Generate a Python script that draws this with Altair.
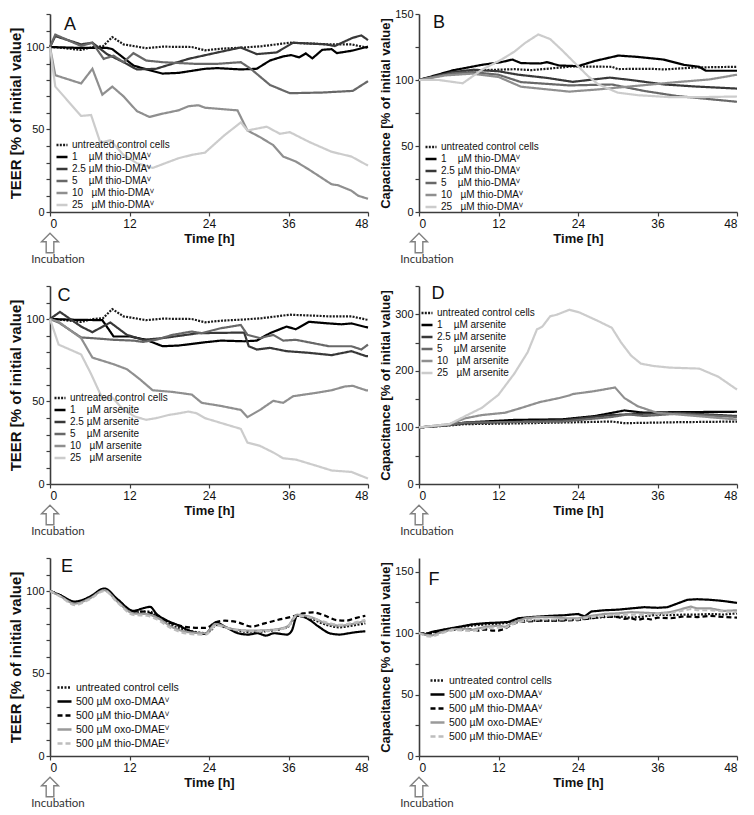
import altair as alt
import pandas as pd

# ---------------- data (time [h], % of initial value) ----------------
X_TICKS = [0, 6, 12, 18, 24, 30, 36, 42, 48]

NAMES_THIO = ["untreated control cells",
              "1\u00a0\u00a0\u00a0\u00a0\u00b5M thio-DMA\u2c7d",
              "2.5\u00a0\u00b5M thio-DMA\u2c7d",
              "5\u00a0\u00a0\u00a0\u00a0\u00b5M thio-DMA\u2c7d",
              "10\u00a0\u00a0\u00a0\u00b5M thio-DMA\u2c7d",
              "25\u00a0\u00a0\u00a0\u00b5M thio-DMA\u2c7d"]
NAMES_ARS = ["untreated control cells",
             "1\u00a0\u00a0\u00a0\u00a0\u00b5M arsenite",
             "2.5\u00a0\u00b5M arsenite",
             "5\u00a0\u00a0\u00a0\u00a0\u00b5M arsenite",
             "10\u00a0\u00a0\u00a0\u00b5M arsenite",
             "25\u00a0\u00a0\u00a0\u00b5M arsenite"]
NAMES_500 = ["untreated control cells",
             "500 \u00b5M oxo-DMAA\u2c7d",
             "500 \u00b5M thio-DMAA\u2c7d",
             "500 \u00b5M oxo-DMAE\u2c7d",
             "500 \u00b5M thio-DMAE\u2c7d"]

# Panel A (TEER, thio-DMAV)
A_CTRL = [(0,100),(2,99.4),(4.7,98.2),(6.5,100),(8,100.5),(9.4,106),(11.1,101.6),(14.5,99.3),(17,100.2),(21.4,100),(23.4,98),(26,99),(29.3,99.7),(32,100.5),(34.2,101.6),(36.2,102.6),(40,102),(42.1,101.6),(45.5,101.6),(47.7,99.7),(48,99.5)]
A_1 = [(0,100),(4,99.5),(8.6,99.5),(9.4,98.7),(12.6,88.8),(14.5,86.5),(17,83.9),(19.4,84.3),(23.4,86.8),(25.3,87.2),(28.8,86.4),(31.2,86.8),(33.2,91.8),(35.2,94.3),(36.4,95.1),(37.6,93.7),(38.6,96.1),(39.6,93.1),(41.1,98.3),(42.5,98.7),(43.3,96.3),(45.5,97.7),(48,100.2)]
A_2P5 = [(0,100),(0.8,106.6),(4.7,101.6),(6.4,102.6),(8.6,95.7),(11.1,90.8),(13.1,86.4),(16,86.8),(20.9,92.8),(25.3,96.7),(28.8,99.7),(31.2,95.7),(34.2,96.7),(36.7,102.6),(41.6,101.6),(43,100.6),(45.7,105.6),(47,107),(48,104.2)]
A_5 = [(0,100),(0.8,107.5),(4.7,100.6),(6.4,102.6),(8.1,92.8),(9.6,94.7),(11.1,90.8),(12.6,96.3),(14.5,91.8),(17,90.8),(21.9,89.8),(25.3,89.8),(28.8,90.8),(30.3,86.8),(33.2,77),(36.2,72),(41.1,72.4),(45.7,73.4),(48,79.3)]
A_10 = [(0,100),(0.8,82.9),(4.7,77.9),(6.4,86.8),(7.9,71.1),(9.4,76),(11.1,70.1),(13.1,61.2),(15,57.6),(17,59.6),(19.4,61.6),(20.9,64.1),(22.4,64.7),(23.4,63.2),(28.3,61.6),(29.8,49.4),(31.7,45.4),(33.7,40.5),(35.2,33.6),(37.1,30.6),(39.1,25.7),(42.5,16.8),(43.5,16.2),(45.5,12.9),(46.5,9.9),(48,8)]
A_25 = [(0,100),(0.8,76),(4.7,58.2),(6.2,58.8),(7.6,42),(9.1,43.5),(11.1,34.6),(13.1,29.6),(15.5,26.7),(19.4,32.6),(21.4,34.6),(23.4,36),(26.3,46.4),(28.8,54.3),(29.8,49.4),(32.7,51.7),(34.7,47.4),(36.2,48.4),(39.1,42.5),(42.5,36.5),(45.5,33.6),(48,28.1)]

# Panel B (capacitance, thio-DMAV)
B_CTRL = [(0,100),(4,104.5),(8.5,107.3),(14.4,108.2),(17,107.5),(19.3,108.5),(23.2,110.3),(29.1,110),(30,108.3),(35,108.5),(37,108),(41.8,109.5),(48,110)]
B_1 = [(0,100),(5.1,107.3),(9.5,111.5),(12.4,113.5),(14.1,115.5),(15.4,112.8),(18.3,112.5),(19.3,113.5),(21.2,111),(24,110.5),(26.6,114.5),(30.1,118.5),(33,117.5),(36.9,115.5),(40,111.5),(42.3,110),(43.3,107),(48,107)]
B_2P5 = [(0,100),(5,106),(8.3,107.8),(12,106.6),(15,104),(19.3,101.6),(23.2,98.6),(26.3,100.4),(28.8,101.8),(32,100),(37,96.6),(42,95),(48,93.5)]
B_5 = [(0,100),(5,105),(8,106),(12,104),(15.4,98.4),(22.7,95.9),(29.1,96.6),(34,91.7),(38.9,87.9),(48,83.5)]
B_10 = [(0,100),(4,103.5),(8,104.8),(12,102.3),(15.4,94.9),(22.7,91.2),(27.1,92.9),(34,96.1),(38.9,98.4),(43.8,100.4),(48,104)]
B_25 = [(0,100),(3,100),(6.6,97.5),(9.5,107.8),(12.4,115.3),(14.4,121.5),(16,128),(18,134.5),(19.8,131),(21.5,123),(23.5,113),(25.5,103),(27.1,96.6),(30,90.4),(33,88.5),(37.9,87),(42,87),(48,87.5)]

# Panel C (TEER, arsenite)
C_CTRL = A_CTRL
C_1 = [(0,100),(4,99.5),(7.9,99.3),(9.6,89.4),(12.1,89.4),(14.5,87.4),(17,83.5),(19.4,83.9),(23.4,85.9),(25.8,86.9),(29.3,86.5),(31.2,86.9),(33.2,91.4),(35.7,95.4),(37.1,93.8),(39.1,98.3),(42.1,97.3),(44,96.8),(45.5,97.3),(48,94.8)]
C_2P5 = [(0,100),(1.5,104.3),(4.7,95.4),(6.4,92),(9.1,97.9),(11.6,90.4),(14,87.4),(17,88.4),(22.4,91.4),(29.3,91.8),(30,83.5),(31.2,81.5),(33.2,82.5),(35.7,80.5),(39.1,79.5),(42.5,78.1),(45.5,80.5),(47.7,77.5),(48,77.5)]
C_5 = [(0,100),(1.3,97.9),(4.7,88.8),(6.4,88.4),(9.6,87.4),(12.6,86.9),(14,86.1),(16,87.4),(18.5,90.4),(21.4,92.4),(22.9,91.4),(25.8,94.4),(28.8,96.4),(29.8,90.4),(31.7,88.4),(33.7,90.4),(35.2,86.9),(37.1,87.4),(42.1,83.5),(45.5,83.5),(47,81.5),(48,84.5)]
C_10 = [(0,100),(1.3,98.3),(4.7,88.4),(6.4,76.6),(9.6,72.6),(11.6,69.6),(13.5,63.7),(15.5,56.8),(18.5,55.8),(21.4,54.2),(22.9,49.2),(25.8,47.3),(28.8,44.9),(29.8,40.5),(31.7,44.9),(33.7,50.4),(35.2,49.2),(36.7,53.2),(40.1,55.2),(42.5,56.8),(44.5,59.1),(45.7,59.5),(47.7,56.8),(48,56.8)]
C_25 = [(0,100),(1.3,84.5),(4.7,78.5),(6.2,66.7),(7.9,51.8),(9.4,52.4),(11.1,44.9),(12.8,40.9),(14.5,38.9),(16,39.9),(18,41.9),(19,42.5),(20.9,43.9),(22.1,42.9),(23.4,39.9),(28.8,33.4),(29.8,25.1),(31.7,23.1),(33.7,19.1),(35.2,15.6),(37.1,14.8),(40.1,11.2),(42.5,8.2),(45.5,7.3),(48,3.3)]

# Panel D (capacitance, arsenite)
D_CTRL = [(0,100),(4,103),(7,105.8),(14.4,107),(21.7,108.7),(29.1,110.4),(31,107.5),(38.9,109.2),(48,110.4)]
D_1 = [(0,100),(4,104),(7,108.7),(14.4,113.3),(21.7,114.4),(26.6,120.2),(31,130),(34,126),(38.9,127.2),(41.4,127.2),(48,127.7)]
D_2P5 = [(0,100),(4,103.5),(7,107),(14.4,110),(21.7,112.7),(29.1,122),(34,124.2),(38.9,126),(48,120.2)]
D_5 = [(0,100),(4,103.5),(7,108.7),(14.4,109.5),(21.7,110.4),(29.1,118.5),(31.5,123.1),(34,120.2),(38.9,124.2),(48,118.5)]
D_10 = [(0,100),(4.6,105.8),(7,116.2),(9.5,121.9),(13,126),(15.5,134.7),(18.3,145),(21.2,152),(22.7,156.6),(23.2,159),(26.1,163.5),(29.6,170.5),(31,152),(33,137.5),(35.9,126),(38.9,123.1),(48,114)]
D_25 = [(0,100),(4.6,105.8),(7,120.2),(9.5,134.7),(12,157.8),(14.4,195.3),(16.4,232.9),(17.8,273.3),(18.6,278),(19.8,296.4),(20.8,299.3),(22.7,308),(24.2,303.3),(27.1,287.7),(29.1,276.2),(30.5,250.2),(32,227.1),(33.5,212.7),(35.4,208.6),(37.9,205.7),(42.3,204),(45.2,189.5),(47.7,169.3),(48,167)]

# Panel E (TEER, 500 uM)
E_CTRL = [(0,100),(1.5,97.5),(3.75,93),(6,96),(8.2,101),(10.2,94),(12.6,87),(14.1,87.5),(15.1,87.5),(16.1,84.5),(18.5,79),(21,76),(23.5,74.5),(24.5,77),(25,79.5),(26.4,78),(28.4,76),(30.4,75),(33.3,76),(35.8,78),(37.3,85),(39.2,83.5),(41.7,79.5),(43.7,78),(45.6,79),(47.6,80.4)]
E_OXO_DMAA = [(0,100),(1.5,97.5),(3.75,93.6),(6,96.5),(8.2,101.5),(10.2,95),(12.6,88),(14.1,89.6),(15.1,90.4),(16.1,86),(17.5,82.4),(19.5,79),(21,76),(22.5,74.4),(23.5,74),(24,76),(25,81),(26.4,78.4),(28.4,74.4),(29.9,73.6),(31.3,74.4),(32.6,73),(33.8,74.4),(35.8,73.6),(36.5,76),(37.3,85),(38.7,83.6),(40.7,78),(42.2,74.4),(43.7,73.6),(45.1,74.4),(46.1,75),(47.6,75.6)]
E_THIO_DMAA = [(0,100),(1.5,97.5),(3.75,93),(6,96),(8.2,101),(10.2,94.5),(12.6,87.5),(14.1,87.5),(16.1,85),(18,81),(19.5,79),(21,78),(23.5,77.6),(25,81),(26.4,82),(28.4,81),(30.4,78.4),(32.4,80.4),(34.3,82.4),(36.5,84.4),(38.2,86.4),(39.7,87),(41.2,85.6),(43.2,82.4),(44.6,82),(46.1,83.6),(47.6,85)]
E_OXO_DMAE = [(0,100),(1.5,97),(3.75,92.4),(6,95.5),(8.2,100.5),(10.2,93.5),(12.6,86.4),(14.6,86),(16.1,84),(18.5,78),(21,75),(23.5,74.4),(25,80),(27.4,77),(30.4,76),(33.3,76.4),(35.8,78.4),(37.3,85.6),(39.2,84.4),(41.7,80.4),(43.7,79),(45.6,80),(47.6,82)]
E_THIO_DMAE = [(0,100),(1.5,96.8),(3.75,91.5),(6,95),(8.2,100),(10.2,93),(12.6,85.5),(14.6,85),(16,83),(18.5,77),(21,74),(23.5,73.5),(25,79),(27.4,77),(30.4,75.5),(33.3,76),(35.8,78),(37.3,85),(39.2,84),(41.7,81),(43.7,79.5),(45.6,80.5),(47.6,82.5)]

# Panel F (capacitance, 500 uM)
F_CTRL = [(0,100),(1,99.5),(2,100.5),(4,103),(6,104.5),(8,106),(10,107),(12,107.5),(13,108),(14,109),(16,110),(18,110),(20,110),(22,110.5),(24,111),(26,112),(28,113),(30,113.5),(32,112.5),(34,113.5),(36,115),(38,114.5),(40,115),(42,115),(44,115.5),(46,115),(48,116)]
F_OXO_DMAA = [(0,100),(1,99),(2,101),(4,103),(6,105),(8,107),(10,108),(12,108.5),(13.5,109),(15,112),(17,113),(20,114),(22,114.5),(24,115.5),(25,113.5),(26,117.5),(28,118.5),(30,119),(32,120),(34,121),(36,120.5),(37.5,121),(39,124),(40.5,127),(42,127.5),(44,127),(46,126),(48,124.5)]
F_THIO_DMAA = [(0,100),(1,99),(2,99.5),(4,102),(6,103),(8,103),(9,102),(10,103),(11,102),(12,102),(13,103.5),(14,107),(15,109),(18,110),(21,110),(24,110.5),(26,112),(28,113.5),(30,113),(31,111.5),(32,112),(33,110.5),(34,112),(35,111),(36,112.5),(38,112),(40,113.5),(42,113),(44,114),(46,113),(48,112.5)]
F_OXO_DMAE = [(0,100),(1,98.5),(2,98),(3,100),(5,103),(7,103.5),(8,102.5),(10,105),(12,106),(13,105),(14,108),(16,112),(18,113),(20,113),(22,112),(24,112),(26,114),(28,115.5),(30,116),(32,117),(34,116.5),(36,116),(38,117),(40,120),(41,121.5),(42,120),(44,120),(46,118),(48,118.5)]
F_THIO_DMAE = [(0,100),(1,97.5),(2,97),(3,99),(5,102.5),(7,102),(8,101.5),(10,104),(12,104.5),(13,104),(14,107),(16,110),(18,111),(20,111),(22,111),(24,111),(26,113),(28,114),(30,115),(32,115),(34,115),(36,115.5),(38,116),(40,118.5),(41,119.5),(42,118.5),(44,118.5),(46,117.5),(48,117)]

COLORS_6 = ["#1a1a1a", "#000000", "#383838", "#686868", "#8f8f8f", "#cccccc"]
DASHES_6 = [[2, 1.3], [1, 0], [1, 0], [1, 0], [1, 0], [1, 0]]
COLORS_5 = ["#1a1a1a", "#000000", "#000000", "#9a9a9a", "#bdbdbd"]
DASHES_5 = [[2, 1.5], [1, 0], [5, 3], [1, 0], [5, 3]]

TEER_TITLE = "TEER [% of initial value]"
CAP_TITLE = "Capacitance [% of initial value]"

ARROW = "M0,-1.15L1,-0.15L0.45,-0.15L0.45,1.15L-0.45,1.15L-0.45,-0.15L-1,-0.15Z"
FONT = "Liberation Sans"
W = 318
H = 198


def to_df(names, series):
    rows = []
    for name, pts in zip(names, series):
        for t, v in pts:
            rows.append({"t": t, "v": v, "s": name})
    return pd.DataFrame(rows)


def panel(letter, names, series, colors, dashes, ydom, ytop_tick, ystep, ylab, ytitle,
          ytitle_size, leg_x, leg_y, sym_size, leg_font, letter_xy, interp="linear"):
    df = to_df(names, series)
    xenc = alt.X("t:Q", title="Time [h]",
                 scale=alt.Scale(domain=[0, 48], nice=False),
                 axis=alt.Axis(values=X_TICKS,
                               labelExpr="datum.value % 12 == 0 ? datum.label : ''",
                               labelFontSize=12, labelPadding=2, tickSize=4,
                               titleFontSize=13, titleFontWeight="bold", titlePadding=3))
    yenc = alt.Y("v:Q", title=ytitle,
                 scale=alt.Scale(domain=ydom, nice=False),
                 axis=alt.Axis(values=list(range(0, ytop_tick + 1, ystep)),
                               labelExpr=f"datum.value % {ylab} == 0 ? datum.label : ''",
                               labelFontSize=11, labelPadding=2, tickSize=4,
                               titleFontSize=ytitle_size, titleFontWeight="bold",
                               titlePadding=2))
    leg = alt.Legend(title=None, orient="none", legendX=leg_x, legendY=leg_y,
                     symbolType="stroke", symbolSize=sym_size, symbolStrokeWidth=2.5,
                     labelFontSize=leg_font, labelFont=FONT, labelColor="#111",
                     rowPadding=0, padding=0, labelOffset=3)
    lines = alt.Chart(df).mark_line(strokeWidth=2.2, interpolate=interp).encode(
        x=xenc, y=yenc,
        color=alt.Color("s:N", scale=alt.Scale(domain=names, range=colors), legend=leg),
        strokeDash=alt.StrokeDash("s:N", scale=alt.Scale(domain=names, range=dashes), legend=leg),
    )
    lab = alt.Chart(pd.DataFrame({"l": [letter]})).mark_text(
        fontSize=18, font=FONT, align="center", baseline="middle", color="#111"
    ).encode(text="l:N", x=alt.value(letter_xy[0]), y=alt.value(letter_xy[1]))
    inc = pd.DataFrame({"t": [0], "txt": ["Incubation"]})
    arrow = alt.Chart(inc).mark_point(
        shape=ARROW, size=289, fill="white", fillOpacity=1, stroke="#808080",
        strokeWidth=1.4, opacity=1
    ).encode(x=alt.X("t:Q", title="Time [h]"), y=alt.value(H + 31))
    inc_txt = alt.Chart(inc).mark_text(
        font="Lato", fontSize=11.5, color="#333", dx=8, baseline="middle"
    ).encode(x=alt.X("t:Q", title="Time [h]"), y=alt.value(H + 48), text="txt:N")
    return alt.layer(lines, lab, arrow, inc_txt).properties(width=W, height=H)


pA = panel("A", NAMES_THIO, [A_CTRL, A_1, A_2P5, A_5, A_10, A_25], COLORS_6, DASHES_6,
           [0, 120], 120, 10, 50, TEER_TITLE, 15, 5, 124, 121, 10, (20, 11))
pB = panel("B", NAMES_THIO, [B_CTRL, B_1, B_2P5, B_5, B_10, B_25], COLORS_6, DASHES_6,
           [0, 150], 150, 25, 50, CAP_TITLE, 13, 5, 126, 121, 10, (20, 9))
pC = panel("C", NAMES_ARS, [C_CTRL, C_1, C_2P5, C_5, C_10, C_25], COLORS_6, DASHES_6,
           [0, 120], 120, 10, 50, TEER_TITLE, 15, 3, 105, 121, 10, (14, 10))
pD = panel("D", NAMES_ARS, [D_CTRL, D_1, D_2P5, D_5, D_10, D_25], COLORS_6, DASHES_6,
           [0, 350], 350, 50, 100, CAP_TITLE, 13, 1, 20, 121, 10, (19, 8))
pE = panel("E", NAMES_500, [E_CTRL, E_OXO_DMAA, E_THIO_DMAA, E_OXO_DMAE, E_THIO_DMAE],
           COLORS_5, DASHES_5, [0, 120], 120, 10, 50, TEER_TITLE, 15, 6, 121, 196, 10.5,
           (17, 9), interp="monotone")
pF = panel("F", NAMES_500, [F_CTRL, F_OXO_DMAA, F_THIO_DMAA, F_OXO_DMAE, F_THIO_DMAE],
           COLORS_5, DASHES_5, [0, 161], 150, 25, 50, CAP_TITLE, 13, 10, 114, 196, 10.5,
           (15, 22))

chart = alt.concat(pA, pB, pC, pD, pE, pF, columns=2,
                   spacing={"row": 74, "column": 51}, bounds="flush")
chart = chart.resolve_scale(color="independent", strokeDash="independent",
                            x="independent", y="independent")
chart = chart.resolve_legend(color="independent", strokeDash="independent")
chart = chart.properties(padding={"left": 0, "top": 0, "right": 0, "bottom": 0})
chart = chart.configure_view(stroke=None).configure_axis(
    grid=False, labelFont=FONT, titleFont=FONT, labelColor="#111", titleColor="#111",
    domainColor="#3c3c3c", domainWidth=1.6, tickColor="#3c3c3c", tickWidth=1.2
)

chart.save("out.html", embed_options={"renderer": "svg", "actions": False})
